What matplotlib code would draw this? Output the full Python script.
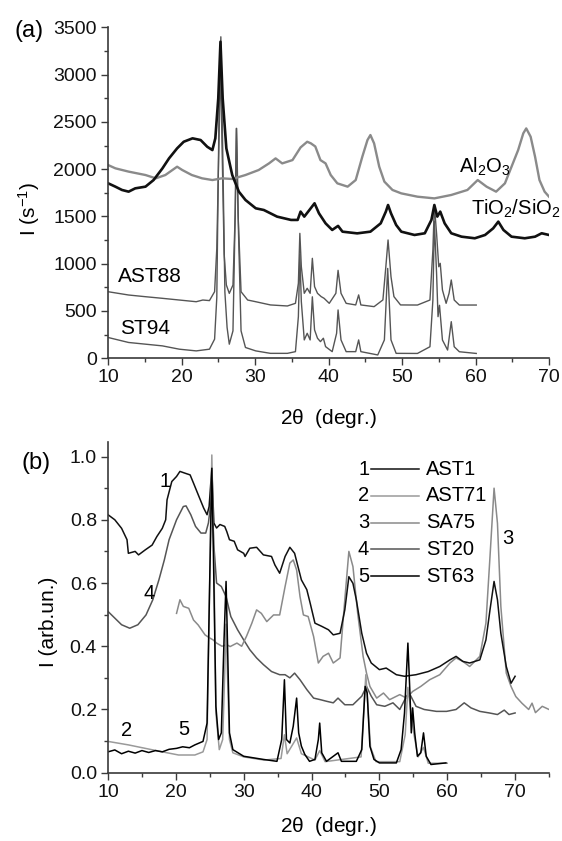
import matplotlib
matplotlib.use('Agg')
import matplotlib.pyplot as plt
from matplotlib.ticker import MultipleLocator

plt.rcParams['font.family'] = ['Liberation Sans', 'DejaVu Sans']
plt.rcParams['mathtext.fontset'] = 'custom'
plt.rcParams['mathtext.rm'] = 'Liberation Sans'
plt.rcParams['mathtext.default'] = 'regular'

# ---- panel (a): XRD patterns, I (s^-1) vs 2theta ----
al2o3 = [(10, 2044), (11, 2009), (12.8, 1974), (15.1, 1938), (16.5, 1903), (17.8, 1938),
         (19.4, 2026), (20.1, 1991), (21.4, 1938), (22.8, 1903), (24.2, 1885), (25.5, 1903),
         (26.9, 1896), (28.7, 1938), (30.5, 1991), (31.9, 2061), (32.8, 2114), (33.7, 2061),
         (35.1, 2096), (36.2, 2230), (37.1, 2290), (37.6, 2273), (38.2, 2240), (38.9, 2096),
         (39.6, 2061), (40.3, 1938), (41.2, 1850), (42.6, 1815), (43.7, 1885), (44.6, 2132),
         (45.3, 2308), (45.7, 2361), (46.2, 2273), (46.9, 2026), (47.6, 1868), (48.7, 1780),
         (49.9, 1744), (52.1, 1709), (54.4, 1691), (56.7, 1727), (58.9, 1780), (60.3, 1885),
         (61.5, 1815), (62.8, 1762), (64.0, 1850), (64.9, 2026), (65.8, 2202), (66.5, 2379),
         (66.9, 2431), (67.5, 2343), (68.1, 2132), (68.7, 1885), (69.4, 1762), (70, 1709)]

tio2_sio2 = [(10, 1851), (11, 1815), (11.9, 1780), (12.8, 1762), (13.7, 1797), (15.1, 1815),
             (16.2, 1885), (17.4, 2008), (18.3, 2114), (19.4, 2220), (20.3, 2290), (21.5, 2326),
             (22.6, 2308), (23.5, 2237), (24.2, 2202), (24.6, 2326), (25.0, 2749), (25.3, 3348),
             (25.6, 2749), (26.1, 2220), (26.9, 1938), (27.8, 1762), (28.7, 1674), (30.1, 1586),
             (31.2, 1568), (33.0, 1498), (34.9, 1463), (35.8, 1463), (36.2, 1551), (36.7, 1498),
             (37.4, 1568), (38.1, 1639), (38.7, 1533), (39.6, 1427), (40.5, 1357), (41.3, 1400),
             (41.9, 1339), (43.9, 1321), (45.7, 1339), (47.1, 1427), (47.8, 1551), (48.1, 1621),
             (48.5, 1533), (49.2, 1410), (49.9, 1339), (51.7, 1304), (53.1, 1322), (54.0, 1463),
             (54.4, 1621), (54.8, 1498), (55.2, 1551), (55.8, 1427), (56.7, 1322), (58.1, 1286),
             (59.9, 1269), (61.3, 1304), (62.4, 1374), (63.1, 1445), (63.8, 1357), (64.9, 1286),
             (66.7, 1269), (68.1, 1286), (69.0, 1322), (70, 1304)]

ast88 = [(10, 704), (12.8, 669), (15.1, 651), (17.4, 634), (19.7, 616), (22, 598), (22.9, 616),
         (23.8, 610), (24.5, 704), (24.8, 1162), (25.1, 2300), (25.3, 3150), (25.5, 2300),
         (25.8, 1100), (26.1, 775), (26.5, 686), (27, 775), (27.3, 1515), (27.45, 2431),
         (27.7, 1515), (28.1, 704), (29, 616), (30.1, 598), (32.1, 564), (34.4, 553), (35.5, 581),
         (35.9, 793), (36.1, 1321), (36.3, 969), (36.7, 687), (37.1, 740), (37.5, 687),
         (37.8, 1057), (38.1, 758), (38.5, 687), (39, 652), (39.4, 634), (40.1, 581), (41, 687),
         (41.3, 930), (41.7, 687), (42.4, 581), (43.7, 564), (44.1, 670), (44.4, 564),
         (46.2, 546), (47.4, 617), (47.8, 969), (48.1, 1251), (48.5, 863), (48.9, 652),
         (49.8, 564), (52.1, 563), (53.8, 616), (54.2, 1145), (54.4, 1621), (54.7, 1321),
         (55, 968), (55.2, 1004), (55.5, 722), (56, 581), (56.4, 687), (56.7, 828), (57.1, 616),
         (57.8, 563), (60.1, 563)]

st94 = [(10, 220), (12.8, 167), (15.1, 149), (17.4, 131), (19.7, 96), (22, 78), (23.8, 96),
        (24.5, 202), (24.8, 643), (25.1, 2580), (25.35, 3400), (25.6, 2220), (25.9, 700),
        (26.2, 326), (26.5, 149), (27, 290), (27.3, 1515), (27.5, 2431), (27.75, 1339),
        (28.1, 290), (28.7, 114), (30.1, 78), (32.1, 52), (34.4, 52), (35.5, 70), (35.9, 441),
        (36.1, 1100), (36.3, 600), (36.7, 194), (37.1, 264), (37.5, 194), (37.8, 650),
        (38.1, 300), (38.5, 212), (38.9, 176), (39.3, 212), (39.6, 123), (40.5, 70), (41.1, 264),
        (41.3, 511), (41.7, 194), (42.4, 70), (43.7, 70), (44.1, 194), (44.4, 70), (46.7, 35),
        (47.6, 194), (48.05, 950), (48.5, 194), (49.2, 52), (52.1, 51), (53.8, 122), (54.2, 616),
        (54.4, 1450), (54.7, 900), (54.9, 440), (55.1, 560), (55.5, 193), (56.2, 87),
        (56.7, 387), (57.1, 122), (57.8, 69), (60.1, 51)]

# ---- panel (b): normalised patterns ----
ast1 = [(10, 0.816), (11, 0.80), (12, 0.773), (12.8, 0.737), (13, 0.694), (14, 0.70), (14.5, 0.689),
        (15.5, 0.705), (16.5, 0.72), (17.2, 0.747), (18, 0.773), (18.5, 0.80), (18.7, 0.863),
        (19.4, 0.921), (20.1, 0.937), (20.6, 0.953), (21.4, 0.947), (22.1, 0.942), (22.6, 0.916),
        (23.3, 0.879), (24.1, 0.837), (24.6, 0.816), (24.9, 0.842), (25.3, 0.963), (25.6, 0.79),
        (26, 0.774), (26.5, 0.785), (27.2, 0.779), (27.5, 0.763), (27.9, 0.737), (28.6, 0.732),
        (29.1, 0.705), (30, 0.694), (30.2, 0.684), (30.9, 0.71), (31.9, 0.713), (32.9, 0.689),
        (34.1, 0.684), (34.6, 0.657), (35.3, 0.631), (36.1, 0.684), (36.8, 0.713), (37.5, 0.694),
        (38, 0.652), (38.5, 0.61), (39.3, 0.579), (39.8, 0.536), (40.5, 0.473), (41.5, 0.463),
        (42.5, 0.452), (43.2, 0.436), (44.2, 0.441), (44.9, 0.515), (45.5, 0.62), (46.1, 0.599),
        (46.6, 0.547), (47.4, 0.441), (48.1, 0.378), (48.8, 0.347), (50, 0.326), (51, 0.331),
        (52.5, 0.31), (53.7, 0.305), (55.4, 0.31), (57.2, 0.32), (58.9, 0.336), (60.4, 0.357),
        (61.3, 0.368), (62.3, 0.352), (63.3, 0.347), (64.8, 0.357), (65.7, 0.42), (66.3, 0.515),
        (66.9, 0.605), (67.4, 0.547), (67.9, 0.441), (68.7, 0.336), (69.4, 0.283), (70, 0.305)]

ast71 = [(10, 0.099), (13, 0.088), (15.5, 0.077), (18, 0.066), (20.4, 0.056), (22.8, 0.056),
         (24, 0.066), (24.6, 0.105), (25.1, 0.737), (25.3, 1.005), (25.6, 0.684), (25.9, 0.189),
         (26.4, 0.073), (26.9, 0.105), (27.2, 0.315), (27.4, 0.47), (27.6, 0.315), (27.9, 0.105),
         (28.4, 0.063), (30, 0.05), (33, 0.04), (35.5, 0.045), (36, 0.12), (36.4, 0.06),
         (37.8, 0.11), (38.5, 0.06), (40.5, 0.04), (41.2, 0.07), (42, 0.035), (47.3, 0.05),
         (48, 0.31), (48.7, 0.08), (49.5, 0.035), (53, 0.035), (53.8, 0.12), (54.2, 0.27),
         (54.6, 0.2), (55.1, 0.12), (55.7, 0.05), (56.5, 0.08), (57.2, 0.03), (60, 0.03)]

sa75 = [(20.1, 0.504), (20.6, 0.547), (21.1, 0.526), (21.9, 0.52), (22.6, 0.483), (23.3, 0.467),
        (24.3, 0.436), (25, 0.426), (25.5, 0.42), (26, 0.41), (26.8, 0.4), (27.5, 0.405),
        (28, 0.399), (29, 0.41), (29.7, 0.4), (30.4, 0.431), (31.2, 0.473), (31.9, 0.515),
        (32.6, 0.504), (33.4, 0.478), (34.4, 0.499), (35.3, 0.499), (36.1, 0.589), (36.8, 0.663),
        (37.3, 0.673), (37.8, 0.641), (38.3, 0.557), (38.8, 0.499), (39.5, 0.494), (40.3, 0.431),
        (41, 0.347), (41.7, 0.368), (42.5, 0.378), (43.2, 0.347), (44.2, 0.363), (44.9, 0.547),
        (45.5, 0.7), (46.1, 0.652), (46.8, 0.504), (47.6, 0.368), (48.1, 0.315), (48.6, 0.273),
        (49.6, 0.236), (50.6, 0.252), (51.5, 0.231), (53, 0.247), (54, 0.236), (54.9, 0.257),
        (56.1, 0.273), (57.4, 0.294), (58.9, 0.31), (60.4, 0.347), (61.3, 0.363), (62.3, 0.352),
        (63.3, 0.336), (64.8, 0.368), (65.7, 0.473), (66.3, 0.683), (66.9, 0.9), (67.4, 0.789),
        (67.9, 0.526), (68.7, 0.315), (69.4, 0.273), (70.1, 0.241), (71, 0.22), (72, 0.2),
        (72.5, 0.22), (73, 0.19), (74, 0.21), (75, 0.2)]

st20 = [(10, 0.51), (11, 0.489), (12, 0.468), (13.2, 0.457), (14.4, 0.468), (15.6, 0.499),
        (16.6, 0.547), (17.5, 0.61), (18.3, 0.673), (19, 0.737), (20.1, 0.8), (21.1, 0.842),
        (21.5, 0.844), (22.2, 0.816), (22.9, 0.779), (23.7, 0.758), (24.4, 0.758), (24.8, 0.79),
        (25.3, 0.88), (25.6, 0.72), (26, 0.6), (26.7, 0.589), (27.4, 0.557), (28.1, 0.494),
        (29.1, 0.452), (30, 0.42), (30.9, 0.389), (31.9, 0.363), (32.9, 0.342), (34.1, 0.32),
        (35.3, 0.31), (36.1, 0.31), (36.8, 0.3), (37.5, 0.315), (38.3, 0.294), (39.3, 0.263),
        (40.3, 0.236), (41.3, 0.231), (42.2, 0.226), (43.2, 0.221), (43.9, 0.236), (44.9, 0.215),
        (46.1, 0.215), (47.4, 0.242), (48.1, 0.273), (48.8, 0.242), (49.6, 0.215), (50.8, 0.21),
        (52, 0.221), (53, 0.2), (54, 0.242), (54.4, 0.252), (55.4, 0.21), (56.6, 0.2),
        (58.4, 0.194), (59.9, 0.194), (61.3, 0.2), (62.5, 0.221), (63.5, 0.205), (64.8, 0.194),
        (66.2, 0.189), (67.4, 0.184), (68.4, 0.198), (69.1, 0.184), (70, 0.189)]

st63 = [(10, 0.066), (11, 0.072), (12, 0.06), (13, 0.068), (14, 0.062), (15, 0.07), (16, 0.064),
        (17, 0.07), (18, 0.066), (19, 0.074), (20.1, 0.077), (21, 0.082), (22, 0.079),
        (22.8, 0.088), (24, 0.099), (24.6, 0.157), (25.1, 0.737), (25.3, 0.963), (25.5, 0.737),
        (25.9, 0.21), (26.3, 0.105), (26.7, 0.126), (27.1, 0.42), (27.4, 0.605), (27.6, 0.42),
        (27.9, 0.126), (28.4, 0.073), (30, 0.052), (32.9, 0.042), (34.9, 0.036), (35.6, 0.105),
        (36, 0.294), (36.3, 0.105), (36.8, 0.094), (37.3, 0.147), (37.8, 0.236), (38.1, 0.126),
        (38.5, 0.084), (39, 0.058), (39.7, 0.036), (40.5, 0.042), (41, 0.105), (41.2, 0.157),
        (41.5, 0.063), (42.2, 0.036), (43.9, 0.063), (44.4, 0.036), (46.6, 0.036), (47.4, 0.073),
        (47.9, 0.273), (48.2, 0.252), (48.6, 0.084), (49.2, 0.042), (50, 0.031), (52.5, 0.031),
        (53.2, 0.073), (53.7, 0.189), (54.2, 0.41), (54.5, 0.252), (54.7, 0.126), (54.9, 0.205),
        (55.2, 0.126), (55.6, 0.052), (56.1, 0.063), (56.5, 0.126), (56.9, 0.052), (57.6, 0.026),
        (59.8, 0.031)]

legend_nums = ['1', '2', '3', '4', '5']
legend_names = ['AST1', 'AST71', 'SA75', 'ST20', 'ST63']

AX_COL = '#3a3a3a'


def style_axis(ax, xmaj, ymaj, ymin):
    for s in ['top', 'right']:
        ax.spines[s].set_visible(False)
    for s in ['left', 'bottom']:
        ax.spines[s].set_color(AX_COL)
        ax.spines[s].set_linewidth(1.2)
    ax.xaxis.set_major_locator(MultipleLocator(xmaj))
    ax.xaxis.set_minor_locator(MultipleLocator(xmaj / 2))
    ax.yaxis.set_major_locator(MultipleLocator(ymaj))
    ax.yaxis.set_minor_locator(MultipleLocator(ymin))
    ax.tick_params(which='both', direction='out', color=AX_COL, width=1.0,
                   labelsize=14, labelcolor='#111111')
    ax.tick_params(which='major', length=5, pad=3)
    ax.tick_params(which='minor', length=3)
    ax.patch.set_alpha(0)


def xy(pts):
    return [p[0] for p in pts], [p[1] for p in pts]


fig = plt.figure(figsize=(5.62, 8.41), dpi=100)

# panel (a)
ax1 = fig.add_axes([0.1922, 0.5740, 0.7847, 0.3935])
ax1.plot(*xy(st94), color='#555555', lw=1.0)
ax1.plot(*xy(ast88), color='#555555', lw=1.0)
ax1.plot(*xy(al2o3), color='#8a8a8a', lw=1.7)
ax1.plot(*xy(tio2_sio2), color='#111111', lw=1.9)
ax1.set_xlim(10, 70)
ax1.set_ylim(0, 3500)
style_axis(ax1, 10, 500, 250)

ax1.text(11.4, 863, 'AST88', fontsize=15, va='center', ha='left')
ax1.text(11.7, 317, 'ST94', fontsize=15, va='center', ha='left')
ax1.text(57.8, 1963, r'Al$_2$O$_3$', fontsize=14.5, va='baseline', ha='left')
ax1.text(59.4, 1515, r'TiO$_2$/SiO$_2$', fontsize=14.5, va='baseline', ha='left',
         clip_on=False)

# panel (b)
ax2 = fig.add_axes([0.1922, 0.0812, 0.7847, 0.3936])
ax2.plot(*xy(st20), color='#555555', lw=1.1)
ax2.plot(*xy(sa75), color='#8a8a8a', lw=1.1)
ax2.plot(*xy(ast1), color='#111111', lw=1.1)
ax2.plot(*xy(ast71), color='#9a9a9a', lw=1.1)
ax2.plot(*xy(st63), color='#000000', lw=1.1)
ax2.set_xlim(10, 75)
ax2.set_ylim(0, 1.047)
style_axis(ax2, 10, 0.2, 0.1)
ax2.yaxis.set_major_formatter(matplotlib.ticker.FormatStrFormatter('%.1f'))

# curve labels
ax2.text(18.4, 0.921, '1', fontsize=14.5, ha='center', va='center')
ax2.text(12.7, 0.132, '2', fontsize=14.5, ha='center', va='center')
ax2.text(68.9, 0.742, '3', fontsize=14.5, ha='center', va='center')
ax2.text(16.1, 0.566, '4', fontsize=14.5, ha='center', va='center')
ax2.text(21.2, 0.138, '5', fontsize=14.5, ha='center', va='center')

# legend "n ---- name"
leg_cols = ['#111111', '#9a9a9a', '#8a8a8a', '#555555', '#000000']
row0, step = 0.960, 0.0845
for i, (num, name) in enumerate(zip(legend_nums, legend_names)):
    yy = row0 - i * step
    ax2.text(48.5, yy, num, fontsize=14.5, ha='right', va='center')
    ax2.plot([48.7, 55.8], [yy, yy], color=leg_cols[i], lw=1.1)
    ax2.text(56.9, yy, name, fontsize=14.5, ha='left', va='center')

# axis labels and panel tags
fig.text(0.584, 0.502, r'2$\theta$  (degr.)', fontsize=15, ha='center', va='center')
fig.text(0.584, 0.004, r'2$\theta$  (degr.)', fontsize=15, ha='center', va='bottom')
fig.text(0.051, 0.7515, r'I (s$^{-1}$)', fontsize=15, ha='center', va='center', rotation=90)
fig.text(0.086, 0.261, 'I (arb.un.)', fontsize=15, ha='center', va='center', rotation=90)
fig.text(0.0516, 0.963, '(a)', fontsize=17, ha='center', va='center')
fig.text(0.065, 0.4495, '(b)', fontsize=17, ha='center', va='center')

fig.savefig('out.png', dpi=100)
